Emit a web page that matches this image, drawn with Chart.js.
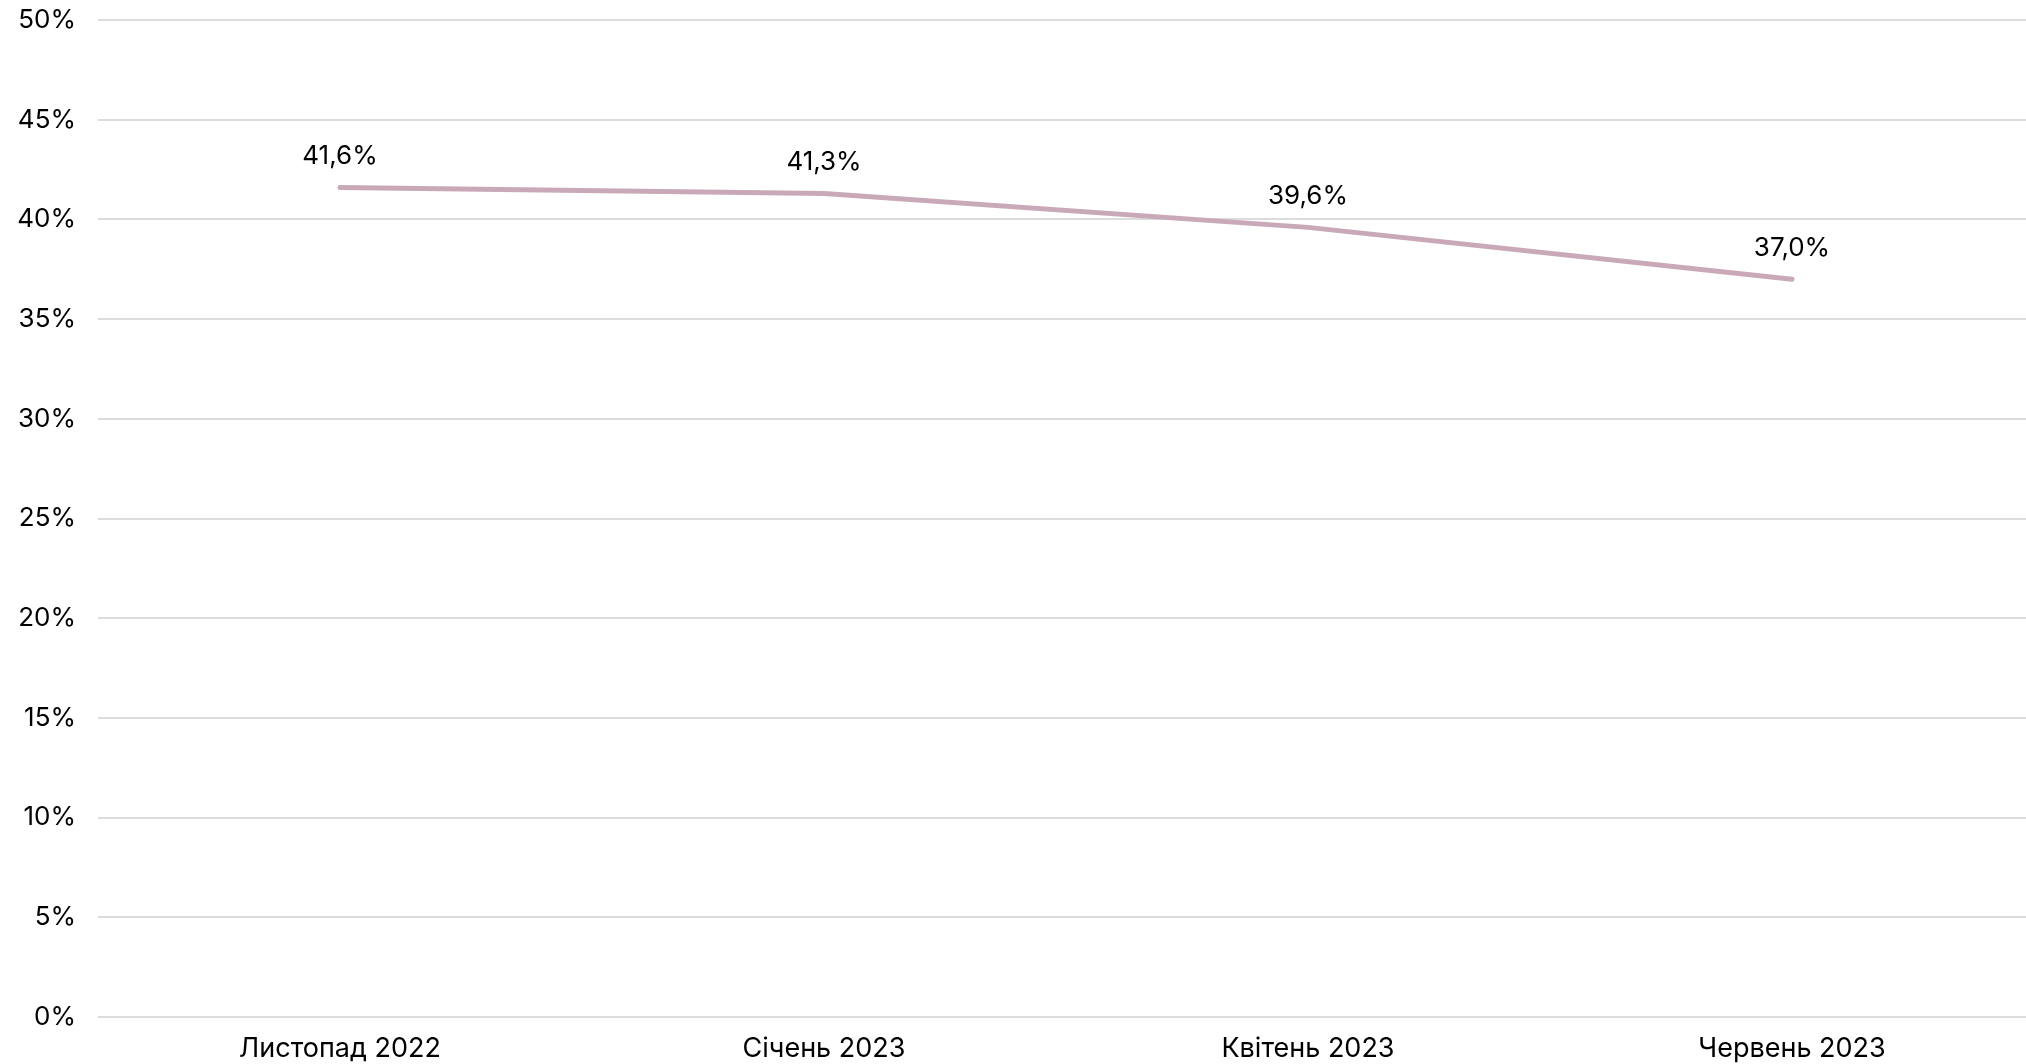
<!DOCTYPE html>
<html>
<head>
<meta charset="utf-8">
<script src="https://cdn.jsdelivr.net/npm/chart.js@4.4.1/dist/chart.umd.min.js"></script>
<style>
  html, body { margin: 0; padding: 0; background: #fff; overflow: hidden; }
  #wrap { width: 2026px; height: 1064px; overflow: hidden; }
  canvas { display: block; }
</style>
</head>
<body>
<div id="wrap"><canvas id="myChart"></canvas></div>
<script>
const categories = ['Листопад 2022', 'Січень 2023', 'Квітень 2023', 'Червень 2023'];
const shareValues = [41.6, 41.3, 39.6, 37.0];
const shareLabels = ['41,6%', '41,3%', '39,6%', '37,0%'];

const FONT = 'Inter, "Noto Sans", sans-serif';

// labels above each point
const pointLabels = {
  id: 'pointLabels',
  afterDatasetsDraw(chart) {
    const ctx = chart.ctx;
    const meta = chart.getDatasetMeta(0);
    ctx.save();
    ctx.font = '26px ' + FONT;
    ctx.fillStyle = '#000';
    ctx.textAlign = 'center';
    ctx.textBaseline = 'middle';
    meta.data.forEach((pt, i) => {
      ctx.fillText(shareLabels[i], pt.x, pt.y - 31);
    });
    ctx.restore();
  }
};

const data1 = {
  labels: categories,
  datasets: [
    {
      label: 'Частка',
      data: shareValues,
      borderColor: '#c9a9b8',
      borderWidth: 5,
      borderCapStyle: 'round',
      borderJoinStyle: 'round',
      pointRadius: 0,
      pointHoverRadius: 0,
      tension: 0,
    },
  ],
};

const config1 = {
  type: 'line',
  data: data1,
  plugins: [pointLabels],
  options: {
    responsive: false,
    animation: false,
    layout: { padding: { top: 20, left: 0, right: 0, bottom: 0 } },
    plugins: {
      legend: { display: false },
      tooltip: { enabled: false },
    },
    scales: {
      x: {
        offset: true,
        grid: { display: false, drawTicks: false },
        border: { display: false },
        ticks: {
          color: '#000',
          font: { family: FONT, size: 27 },
          padding: 16,
          maxRotation: 0,
        },
        afterFit: (s) => { s.height = 47; s.paddingLeft = 0; s.paddingRight = 0; },
      },
      y: {
        min: 0,
        max: 50,
        border: { display: false },
        grid: { color: '#dcdcdc', lineWidth: 2, drawTicks: false },
        ticks: {
          stepSize: 5,
          color: '#000',
          font: { family: FONT, size: 26 },
          padding: 22,
          callback: (v) => v + '%',
        },
        afterFit: (s) => { s.width = 98; s.paddingTop = 0; s.paddingBottom = 0; },
      },
    },
  },
};

// canvas a little wider than the window, like the original export
const canvas = document.getElementById('myChart');
canvas.width = 2034;
canvas.height = 1064;
const myChart1 = new Chart(canvas, config1);
</script>
</body>
</html>
